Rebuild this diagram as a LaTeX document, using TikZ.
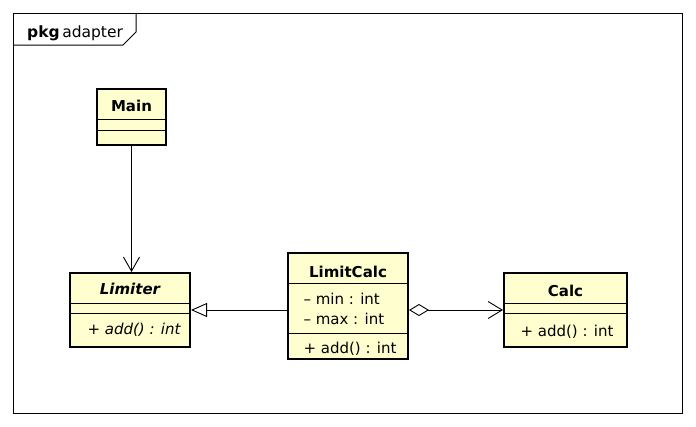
\documentclass[tikz,border=0pt]{standalone}
\usepackage{fontspec}
\setmainfont{DejaVu Sans}
\usetikzlibrary{arrows.meta}
\definecolor{classfill}{HTML}{FEFECE}
\begin{document}
\begin{tikzpicture}[x=1pt,y=-1pt,
  classbox/.style={draw, fill=classfill, line width=2pt, inner sep=0pt},
  classname/.style={anchor=base, font=\fontsize{15}{17}\selectfont\bfseries},
  member/.style={anchor=base west, font=\fontsize{15}{17}\selectfont},
  sepline/.style={line width=0.9pt},
  conn/.style={line width=0.9pt}]
\useasboundingbox (0,0) rectangle (696,426);
\fill[white] (0,0) rectangle (696,426);
% package frame
\draw[line width=1pt] (13,13) rectangle (682,413);
\draw[line width=1pt] (13,45) -- (123,45) -- (136,32) -- (136,13);
\node[anchor=base west, font=\fontsize{15.5}{17}\selectfont, inner sep=0pt] (pkg) at (27,37) {\textbf{pkg}\,adapter};
% Main
\node[classbox, minimum width=69pt, minimum height=56pt] (main) at (131.5,117) {};
\node[classname] (mainname) at (131.5,111) {Main};
\draw[sepline] (main.west |- 0,119) -- (main.east |- 0,119);
\draw[sepline] (main.west |- 0,130) -- (main.east |- 0,130);
% Limiter
\node[classbox, minimum width=120pt, minimum height=74pt] (limiter) at (130,310) {};
\node[classname, font=\fontsize{15}{17}\selectfont\bfseries\itshape] (limitername) at (130,294) {Limiter};
\draw[sepline] (limiter.west |- 0,303) -- (limiter.east |- 0,303);
\draw[sepline] (limiter.west |- 0,313) -- (limiter.east |- 0,313);
\node[member, font=\fontsize{15}{17}\selectfont\itshape] (limiteradd) at (84,334) {+ add() : int};
% LimitCalc
\node[classbox, minimum width=120pt, minimum height=106pt] (limitcalc) at (348,306) {};
\node[classname] (limitcalcname) at (348,277) {LimitCalc};
\draw[sepline] (limitcalc.west |- 0,283) -- (limitcalc.east |- 0,283);
\node[member] (lcmin) at (300,304) {– min : int};
\node[member] (lcmax) at (300,324) {– max : int};
\draw[sepline] (limitcalc.west |- 0,333) -- (limitcalc.east |- 0,333);
\node[member] (lcadd) at (300,353) {+ add() : int};
% Calc
\node[classbox, minimum width=123pt, minimum height=74pt] (calc) at (565.5,310) {};
\node[classname] (calcname) at (565.5,296) {Calc};
\draw[sepline] (calc.west |- 0,303) -- (calc.east |- 0,303);
\draw[sepline] (calc.west |- 0,313) -- (calc.east |- 0,313);
\node[member] (calcadd) at (517,336) {+ add() : int};
% connectors
\draw[conn, -{Straight Barb[length=14pt,width=16pt]}] (main.south) -- (main.south |- limiter.north);
\draw[conn, -{Triangle[open,length=16pt,width=14pt]}] (limitcalc.west |- limiter.east) -- (limiter.east);
\draw[conn, {Diamond[open,length=20pt,width=12pt]}-{Straight Barb[length=14pt,width=17pt]}] (limitcalc.east |- calc.west) -- (calc.west);
\end{tikzpicture}
\end{document}
